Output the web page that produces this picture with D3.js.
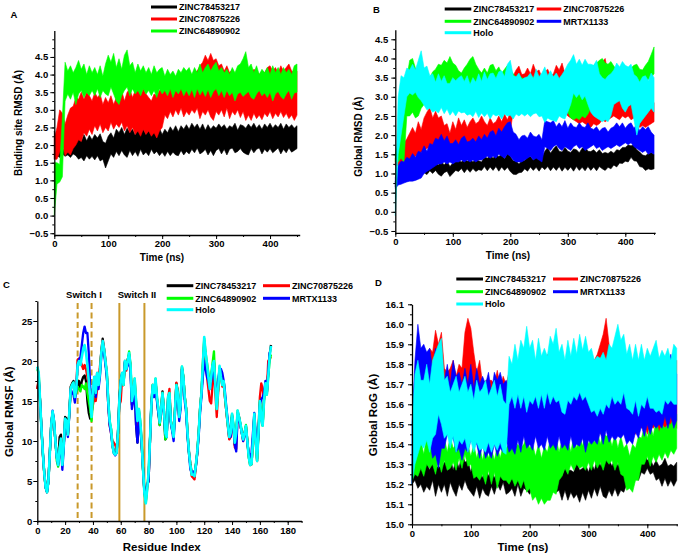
<!DOCTYPE html>
<html>
<head>
<meta charset="utf-8">
<script src="https://cdn.jsdelivr.net/npm/d3@7"></script>
<style>
  body { margin: 0; background: #fff; }
  svg text { font-family: "Liberation Sans", Arial, sans-serif; font-weight: bold; fill: #000; }
</style>
</head>
<body>
<svg id="fig" width="678" height="555"></svg>
<script>
////////////////////////////////////////////////////////////////////////
// Data.
// Time series are stored as the low / high envelope of each noisy trace,
// one pair of values every 5 ns (t = 0 .. 450).

let timeStep = 5;

// A: binding site RMSD
let blackA_lo = [1.6,1.7,1.65,1.75,1.68,1.72,1.65,1.75,1.7,1.6, 1.65,1.55,1.7,1.6,1.68,1.58,1.7,1.55,1.6,1.35, 1.55,1.75,1.65,1.82,1.7,1.85,1.72,1.65,1.85,1.7, 1.82,1.68,1.88,1.72,1.8,1.7,1.88,1.75,1.82,1.7, 1.8,1.68,1.82,1.7,1.8,1.72,1.7,1.85,1.72,1.82, 1.75,1.88,1.78,1.92,1.75,1.8,1.88,1.72,1.85,1.7, 1.85,1.9,1.75,1.88,1.72,1.88,1.92,1.78,1.82,1.9, 1.8,1.75,1.72,1.9,1.78,1.88,1.92,1.75,1.88,1.8, 1.9,1.78,1.85,1.92,1.75,1.88,1.78,1.92,1.8,1.85, 1.9];
let blackA_hi = [2.4,2.0,1.95,1.9,1.85,1.95,2.0,1.92,2.05,2.2, 2.1,2.3,2.12,2.28,2.15,2.3,2.2,2.32,2.1,2.05, 2.25,2.35,2.2,2.45,2.35,2.5,2.3,2.48,2.35,2.45, 2.28,2.5,2.35,2.45,2.3,2.5,2.38,2.52,2.32,2.48, 2.3,2.45,2.35,2.52,2.4,2.55,2.38,2.55,2.45,2.58, 2.45,2.62,2.5,2.6,2.45,2.6,2.42,2.58,2.45,2.55, 2.48,2.6,2.5,2.58,2.45,2.55,2.5,2.62,2.42,2.58, 2.55,2.48,2.6,2.5,2.62,2.48,2.58,2.45,2.6,2.5, 2.62,2.48,2.58,2.5,2.62,2.45,2.6,2.5,2.58,2.48, 2.55];
let redA_lo = [1.6,1.6,1.8,2.0,1.7,1.8,1.72,1.9,2.0,2.15, 2.1,2.35,2.25,2.45,2.3,2.55,2.4,2.6,2.35,2.5, 2.4,2.65,2.45,2.6,2.5,2.65,2.4,2.55,2.35,2.5, 2.3,2.4,2.25,2.45,2.3,2.4,2.25,2.35,2.2,2.4, 2.5,2.85,2.75,2.95,2.8,3.0,2.85,3.05,2.8,2.95, 2.85,3.0,2.9,3.05,2.75,2.95,2.85,3.0,2.8,2.7, 2.95,2.85,3.0,2.8,3.05,2.75,2.95,2.85,3.0,2.78, 2.95,2.7,2.85,2.7,2.9,2.75,2.85,2.72,2.9,2.8, 2.95,2.75,2.9,2.8,2.95,2.78,2.9,2.75,2.85,2.7, 2.85];
let redA_hi = [2.2,2.5,3.0,2.9,2.6,2.85,3.05,3.1,3.35,3.3, 3.5,3.3,3.5,3.4,3.25,3.5,3.35,3.45,3.15,3.35, 3.2,3.4,3.15,3.35,3.45,3.55,3.25,3.5,3.6,3.35, 3.55,3.65,3.4,3.6,3.45,3.35,3.25,3.45,3.4,3.55, 3.6,3.8,3.85,3.9,3.8,3.9,3.95,3.85,3.9,4.0, 3.95,4.0,4.05,4.1,4.25,4.35,4.55,4.4,4.6,4.4, 4.45,4.25,4.3,4.1,4.25,4.05,4.15,4.0,4.1,4.2, 4.05,4.1,4.0,4.05,4.15,4.1,4.0,4.1,4.05,4.2, 4.25,4.1,4.2,4.05,4.25,4.1,4.2,4.3,4.1,4.05, 4.1];
let greenA_lo = [0.0,0.9,0.95,1.1,3.25,3.45,3.3,3.5,3.15,3.45, 3.55,3.35,3.5,3.4,3.55,3.4,3.6,3.35,3.55,3.45, 3.4,3.65,3.45,3.25,3.15,3.4,3.55,3.65,3.4,3.6, 3.45,3.55,3.4,3.6,3.45,3.55,3.4,3.55,3.35,3.6, 3.45,3.55,3.4,3.6,3.35,3.55,3.45,3.6,3.4,3.55, 3.4,3.58,3.35,3.6,3.42,3.55,3.38,3.58,3.35,3.52, 3.6,3.4,3.55,3.35,3.55,3.4,3.5,3.25,3.45,3.5, 3.38,3.45,3.52,3.35,3.3,3.45,3.55,3.4,3.48,3.35, 3.5,3.25,3.45,3.52,3.38,3.3,3.45,3.55,3.3,3.48, 3.5];
let greenA_hi = [1.5,1.5,1.45,2.8,4.35,4.1,4.25,4.05,4.2,4.4, 4.15,4.3,4.0,4.25,4.05,4.2,4.0,4.25,3.95,4.3, 4.55,4.35,4.6,4.2,4.45,4.15,4.55,4.7,4.25,4.35, 4.05,4.3,4.1,4.25,4.05,4.2,4.0,4.25,4.05,4.15, 4.2,3.95,4.15,4.0,4.1,3.95,4.15,4.05,4.2,4.1, 4.2,4.0,4.2,4.05,4.3,4.05,4.2,4.3,4.1,4.25, 4.35,4.1,4.2,4.05,4.15,4.0,4.2,4.05,4.25,4.3, 4.45,4.65,4.2,4.3,4.05,4.25,4.0,4.15,4.05,4.2, 4.0,4.25,4.05,4.2,4.0,4.2,4.05,4.15,4.0,4.25, 4.3];

// B: global RMSD
let blackB_lo = [0.65,0.85,0.9,0.88,0.95,0.92,1.0,0.95,1.02,0.98, 1.02,0.97,1.07,1.0,1.08,0.98,0.93,1.02,1.06,0.92, 1.0,1.08,1.05,1.13,1.02,1.12,1.03,1.13,1.05,1.1, 1.08,1.18,1.07,1.17,1.08,1.18,1.06,1.17,1.08,1.16, 1.05,0.98,0.97,1.02,1.03,1.12,1.06,1.17,1.08,1.16, 1.06,1.17,1.1,1.18,1.07,1.17,1.08,1.18,1.06,1.16, 1.08,1.17,1.06,1.18,1.08,1.16,1.07,1.18,1.08,1.17, 1.07,1.18,1.12,1.08,1.16,1.12,1.22,1.17,1.27,1.26, 1.32,1.3,1.42,1.33,1.32,1.18,1.16,1.08,1.12,1.1, 1.12];
let blackB_hi = [0.8,1.0,1.02,1.05,1.08,1.1,1.13,1.08,1.18,1.12, 1.18,1.16,1.24,1.2,1.28,1.22,1.32,1.22,1.32,1.18, 1.27,1.3,1.34,1.3,1.38,1.32,1.37,1.3,1.38,1.33, 1.3,1.44,1.4,1.47,1.4,1.48,1.44,1.5,1.38,1.52, 1.45,1.33,1.32,1.25,1.33,1.34,1.42,1.44,1.35,1.43, 1.35,1.42,1.58,1.68,1.53,1.64,1.72,1.58,1.56,1.68, 1.58,1.55,1.64,1.62,1.54,1.66,1.7,1.58,1.57,1.62, 1.54,1.62,1.52,1.55,1.52,1.58,1.53,1.62,1.6,1.68, 1.68,1.74,1.72,1.75,1.62,1.56,1.48,1.46,1.52,1.55, 1.5];
let redB_lo = [1.2,1.2,1.25,1.3,1.35,1.3,1.4,1.45,1.5,1.55, 1.6,1.65,1.7,1.65,1.7,1.75,1.7,1.65,1.7,1.6, 1.6,1.65,1.7,1.75,1.8,1.75,1.8,1.85,1.8,1.75, 1.8,1.85,1.9,1.85,1.9,1.95,1.9,2.0,1.95,2.0, 2.1,2.6,2.7,2.8,2.75,2.8,2.85,2.8,2.9,2.85, 2.9,2.8,2.85,2.8,2.75,2.8,2.7,2.8,2.75,2.6, 2.5,2.45,2.4,2.35,2.3,2.35,2.3,2.25,2.2,2.3, 2.25,2.3,2.4,2.35,2.4,2.45,2.5,2.45,2.4,2.5, 2.45,2.5,2.4,2.45,2.3,2.2,2.25,2.2,2.25,2.3, 2.35];
let redB_hi = [1.4,1.6,1.7,1.8,1.9,2.05,2.2,2.05,2.35,2.15, 2.45,2.6,2.72,2.45,2.62,2.45,2.5,2.25,2.3,2.05, 2.35,2.15,2.45,2.25,2.4,2.2,2.35,2.45,2.3,2.35, 2.5,2.35,2.25,2.45,2.3,2.35,2.5,2.35,2.55,2.4, 2.6,3.55,3.7,3.8,3.58,3.6,3.75,3.6,3.85,3.65, 3.7,3.5,3.65,3.72,3.55,3.6,3.82,3.7,3.88,3.6, 3.5,3.45,3.4,3.35,3.4,3.3,3.35,3.4,3.3,3.45, 3.5,3.7,3.9,4.0,3.6,3.4,3.2,3.0,2.9,2.95, 2.85,2.92,2.98,2.82,2.7,2.6,2.68,2.72,2.75,2.8, 2.85];
let greenB_lo = [1.3,1.3,1.4,1.3,2.5,2.5,2.6,2.45,2.5,2.7, 2.8,2.9,2.85,2.9,3.0,2.95,3.0,3.05,3.1,3.0, 3.05,3.1,3.0,2.95,3.0,3.05,3.1,3.05,3.1,3.0, 3.05,2.95,3.0,3.05,3.1,3.0,3.05,3.1,3.05,3.0, 2.9,2.9,2.85,2.9,2.85,2.9,2.95,2.9,2.85,2.9, 2.95,2.9,2.85,2.9,2.85,2.9,2.8,2.85,2.8,2.75, 2.6,2.45,2.4,2.45,2.4,2.5,2.45,2.55,2.7,2.9, 3.1,3.2,3.25,3.2,3.3,3.25,3.3,3.25,3.3,3.2, 3.25,3.3,3.2,3.25,3.3,3.35,3.3,3.4,3.45,3.5, 3.6];
let greenB_hi = [1.5,1.8,2.6,3.0,3.5,3.95,4.0,3.75,3.62,3.5, 3.45,3.55,3.5,3.65,3.72,3.85,3.82,3.95,3.88,4.05, 3.88,3.82,3.68,3.62,3.75,3.85,3.98,4.05,3.85,3.72, 3.62,3.75,3.62,3.82,3.85,3.68,3.78,3.62,3.72,3.82, 3.72,3.6,3.5,3.55,3.5,3.45,3.5,3.55,3.5,3.45, 3.5,3.45,3.5,3.45,3.5,3.45,3.5,3.45,3.5,3.55, 3.6,3.7,3.6,3.5,3.55,3.5,3.6,3.55,3.7,3.82, 3.88,3.95,4.0,3.88,3.85,3.92,3.8,3.72,3.7,3.65, 3.6,3.72,3.75,3.82,3.85,3.72,3.7,3.82,3.92,4.1, 4.3];
let blueB_lo = [0.6,0.7,0.72,0.75,0.78,0.8,0.8,0.82,0.85,0.88, 1.0,1.05,1.1,1.15,1.2,1.25,1.25,1.3,1.25,1.3, 1.25,1.3,1.3,1.35,1.3,1.35,1.3,1.35,1.3,1.35, 1.35,1.4,1.45,1.4,1.45,1.4,1.5,1.45,1.4,1.5, 1.45,1.35,1.3,1.3,1.3,1.35,1.4,1.45,1.35,1.4, 1.35,1.3,1.7,1.65,1.6,1.7,1.75,1.65,1.6,1.7, 1.65,1.6,1.7,1.75,1.65,1.7,1.6,1.65,1.7,1.75, 1.65,1.7,1.6,1.65,1.7,1.65,1.7,1.75,1.7,1.75, 1.8,1.75,1.8,1.7,1.65,1.6,1.55,1.6,1.5,1.55, 1.5];
let blueB_hi = [0.9,1.2,1.32,1.3,1.42,1.38,1.52,1.42,1.58,1.55, 1.72,1.58,1.78,1.75,1.92,1.88,2.02,1.85,1.98,1.78, 1.78,1.88,1.75,1.92,1.98,1.82,1.85,1.92,1.82,1.98, 1.88,2.02,1.92,2.08,2.12,1.98,2.18,2.08,2.22,2.32, 2.35,2.08,2.02,1.88,1.98,2.0,1.92,2.08,1.98,1.95, 2.02,1.88,2.38,2.35,2.32,2.38,2.22,2.32,2.22,2.38, 2.18,2.32,2.22,2.2,2.32,2.22,2.2,2.32,2.18,2.15, 2.22,2.1,2.18,2.2,2.08,2.18,2.22,2.32,2.22,2.32, 2.18,2.28,2.32,2.18,2.28,2.12,2.22,2.15,2.22,2.08, 2.0];
let cyanB_lo = [-0.1,1.5,2.0,2.5,3.0,3.1,3.05,3.12,2.98,2.9, 2.78,2.66,2.7,2.6,2.64,2.58,2.72,2.56,2.68,2.52, 2.62,2.5,2.63,2.58,2.6,2.52,2.55,2.48,2.62,2.46, 2.58,2.48,2.57,2.42,2.55,2.5,2.53,2.42,2.55,2.5, 2.52,2.42,2.55,2.5,2.56,2.5,2.56,2.48,2.55,2.58, 2.48,2.5,2.33,2.45,2.4,2.38,2.35,2.5,2.45,2.42, 2.6,2.8,3.1,2.98,3.08,2.92,3.02,2.8,2.6,2.5, 2.45,2.4,2.35,2.4,2.35,2.5,2.8,2.85,2.9,2.7, 2.6,2.75,2.8,2.4,2.0,2.3,2.4,2.5,2.6,2.7, 2.6];
let cyanB_hi = [0.5,3.0,3.55,3.5,3.75,3.7,3.85,3.7,3.95,4.2, 3.75,3.8,3.55,3.6,3.38,3.6,3.4,3.55,3.35,3.35, 3.5,3.42,3.5,3.55,3.4,3.55,3.32,3.5,3.38,3.6, 3.4,3.65,3.45,3.6,3.62,3.48,3.65,3.68,3.52,3.85, 3.95,3.55,3.52,3.62,3.45,3.5,3.52,3.62,3.48,3.72, 3.52,3.62,3.78,3.55,3.68,3.52,3.62,3.48,3.58,3.7, 3.85,3.95,4.1,3.85,3.98,3.82,3.98,3.85,3.85,3.82, 3.95,3.6,3.5,3.45,3.55,3.6,3.7,3.88,3.78,3.92, 3.82,3.78,3.85,3.58,3.52,3.38,3.52,3.55,3.42,3.62, 3.5];

// D: global radius of gyration
let blackD_lo = [15.2,15.22,15.18,15.2,15.16,15.19,15.17,15.22,15.14,15.2, 15.16,15.2,15.14,15.21,15.17,15.14,15.2,15.17,15.22,15.18, 15.16,15.14,15.19,15.13,15.18,15.15,15.14,15.19,15.15,15.2, 15.17,15.21,15.15,15.16,15.18,15.14,15.2,15.14,15.18,15.17, 15.15,15.19,15.14,15.18,15.19,15.15,15.19,15.14,15.18,15.16, 15.17,15.12,15.17,15.12,15.16,15.13,15.15,15.11,15.16,15.12, 15.17,15.13,15.18,15.14,15.19,15.14,15.13,15.17,15.14,15.18, 15.14,15.17,15.16,15.2,15.21,15.19,15.23,15.22,15.26,15.25, 15.28,15.25,15.26,15.22,15.23,15.19,15.23,15.19,15.22,15.19, 15.22];
let blackD_hi = [15.25,15.28,15.25,15.3,15.26,15.31,15.27,15.33,15.28,15.29, 15.28,15.31,15.3,15.34,15.27,15.33,15.28,15.36,15.31,15.32, 15.26,15.32,15.24,15.29,15.23,15.28,15.24,15.28,15.23,15.27, 15.24,15.28,15.23,15.26,15.22,15.26,15.23,15.25,15.27,15.24, 15.25,15.27,15.24,15.28,15.24,15.27,15.29,15.24,15.28,15.25, 15.29,15.24,15.28,15.27,15.27,15.26,15.31,15.27,15.28,15.3, 15.26,15.31,15.27,15.33,15.29,15.34,15.36,15.32,15.29,15.33, 15.29,15.32,15.28,15.31,15.29,15.3,15.29,15.32,15.31,15.35, 15.32,15.33,15.29,15.32,15.29,15.3,15.33,15.29,15.3,15.29, 15.31];
let redD_lo = [15.2,15.4,15.5,15.55,15.5,15.55,15.5,15.55,15.5,15.55, 15.5,15.5,15.45,15.5,15.45,15.5,15.45,15.5,15.5,15.55, 15.5,15.45,15.5,15.45,15.5,15.45,15.5,15.45,15.5,15.45, 15.5,15.45,15.45,15.5,15.48,15.5,15.45,15.5,15.48,15.5, 15.45,15.5,15.48,15.5,15.45,15.5,15.48,15.5,15.45,15.5, 15.48,15.5,15.45,15.5,15.48,15.5,15.45,15.5,15.48,15.5, 15.45,15.5,15.48,15.5,15.45,15.5,15.48,15.5,15.45,15.5, 15.48,15.5,15.45,15.5,15.48,15.5,15.45,15.5,15.48,15.5, 15.45,15.5,15.48,15.5,15.45,15.5,15.48,15.5,15.45,15.5, 15.48];
let redD_hi = [15.3,15.75,15.88,15.85,15.88,15.78,15.88,15.86,15.97,15.9, 15.96,15.78,15.76,15.78,15.82,15.74,15.8,15.78,15.96,16.03, 15.98,15.86,15.76,15.82,15.7,15.72,15.72,15.72,15.7,15.77, 15.68,15.74,15.7,15.76,15.8,15.78,15.82,15.8,15.85,15.9, 15.85,15.8,15.82,15.78,15.8,15.82,15.85,15.8,15.88,15.9, 15.82,15.8,15.78,15.82,15.8,15.78,15.82,15.8,15.85,15.82, 15.8,15.78,15.82,15.85,15.9,15.95,16.03,15.9,15.82,15.8, 15.82,15.85,15.8,15.78,15.8,15.78,15.75,15.78,15.8,15.75, 15.78,15.8,15.76,15.78,15.8,15.78,15.82,15.8,15.78,15.8, 15.82];
let greenD_lo = [15.22,15.25,15.24,15.28,15.24,15.3,15.28,15.3,15.25,15.32, 15.26,15.32,15.27,15.28,15.31,15.27,15.33,15.28,15.35,15.29, 15.3,15.23,15.24,15.22,15.25,15.2,15.27,15.2,15.26,15.18, 15.24,15.22,15.22,15.2,15.23,15.19,15.22,15.18,15.22,15.16, 15.18,15.12,15.14,15.1,15.13,15.1,15.12,15.12,15.16,15.15, 15.22,15.24,15.28,15.25,15.3,15.27,15.3,15.28,15.29,15.27, 15.31,15.27,15.32,15.28,15.31,15.27,15.32,15.3,15.32,15.27, 15.31,15.25,15.24,15.17,15.18,15.16,15.22,15.22,15.3,15.3, 15.34,15.29,15.34,15.31,15.35,15.32,15.36,15.33,15.37,15.35, 15.38];
let greenD_hi = [15.3,15.36,15.37,15.42,15.35,15.44,15.38,15.4,15.46,15.5, 15.4,15.43,15.36,15.44,15.38,15.4,15.38,15.44,15.37,15.4, 15.34,15.4,15.33,15.39,15.32,15.4,15.33,15.38,15.32,15.39, 15.33,15.4,15.38,15.4,15.43,15.38,15.4,15.38,15.4,15.44, 15.38,15.4,15.34,15.4,15.33,15.39,15.36,15.42,15.4,15.43, 15.36,15.42,15.4,15.43,15.36,15.44,15.38,15.45,15.39,15.46, 15.4,15.43,15.41,15.47,15.4,15.46,15.44,15.45,15.39,15.45, 15.38,15.44,15.38,15.4,15.34,15.4,15.38,15.44,15.43,15.49, 15.43,15.5,15.44,15.52,15.46,15.5,15.48,15.5,15.5,15.53, 15.55];
let blueD_lo = [15.2,15.45,15.5,15.46,15.52,15.42,15.42,15.33,15.35,15.28, 15.38,15.38,15.45,15.42,15.43,15.36,15.38,15.32,15.38,15.36, 15.42,15.4,15.4,15.33,15.4,15.33,15.36,15.33,15.4,15.34, 15.38,15.36,15.42,15.36,15.38,15.35,15.42,15.36,15.44,15.38, 15.4,15.37,15.44,15.38,15.4,15.37,15.44,15.38,15.4,15.37, 15.44,15.38,15.4,15.37,15.44,15.38,15.4,15.39,15.43,15.36, 15.42,15.4,15.42,15.4,15.46,15.4,15.47,15.41,15.44,15.42, 15.44,15.43,15.45,15.4,15.42,15.4,15.46,15.43,15.49,15.44, 15.5,15.45,15.5,15.48,15.5,15.48,15.54,15.48,15.54,15.48, 15.52];
let blueD_hi = [15.5,15.82,16.0,15.88,15.9,15.86,15.88,15.78,15.88,15.8, 15.8,15.72,15.8,15.7,15.82,15.74,15.76,15.7,15.78,15.7, 15.8,15.68,15.78,15.7,15.74,15.7,15.76,15.66,15.76,15.72, 15.76,15.7,15.72,15.68,15.7,15.72,15.68,15.7,15.72,15.7, 15.68,15.7,15.72,15.7,15.68,15.7,15.72,15.7,15.68,15.7, 15.72,15.7,15.68,15.7,15.72,15.7,15.68,15.7,15.72,15.7, 15.68,15.7,15.75,15.8,15.72,15.7,15.68,15.7,15.72,15.7, 15.68,15.7,15.72,15.7,15.68,15.7,15.72,15.7,15.68,15.7, 15.72,15.7,15.68,15.7,15.72,15.7,15.75,15.8,15.85,15.78, 15.75];
let cyanD_lo = [15.2,15.3,15.35,15.4,15.38,15.42,15.36,15.43,15.45,15.55, 15.5,15.43,15.45,15.38,15.44,15.36,15.42,15.4,15.43,15.36, 15.42,15.36,15.41,15.37,15.38,15.36,15.41,15.36,15.4,15.37, 15.41,15.36,15.35,15.6,15.64,15.58,15.65,15.58,15.64,15.56, 15.62,15.6,15.64,15.58,15.65,15.58,15.66,15.6,15.64,15.61, 15.62,15.56,15.55,15.62,15.6,15.64,15.62,15.66,15.62,15.64, 15.6,15.56,15.57,15.54,15.58,15.55,15.6,15.58,15.64,15.6, 15.62,15.6,15.66,15.58,15.57,15.55,15.62,15.54,15.6,15.58, 15.64,15.58,15.58,15.56,15.57,15.55,15.62,15.6,15.62,15.6, 15.6];
let cyanD_hi = [15.5,15.75,15.82,15.72,15.72,15.8,15.7,15.82,15.86,15.9, 15.93,15.72,15.74,15.66,15.7,15.74,15.66,15.7,15.74,15.66, 15.7,15.62,15.72,15.66,15.68,15.72,15.64,15.68,15.72,15.64, 15.7,15.62,15.6,15.84,15.8,15.9,15.82,15.92,15.88,15.99, 15.88,15.92,15.82,15.93,15.84,15.88,15.84,15.94,15.9,15.98, 15.86,15.9,15.82,15.92,15.84,15.93,15.85,15.95,15.87,15.94, 15.86,15.88,15.82,15.84,15.83,15.86,15.82,15.9,15.88,15.94, 16.0,15.92,15.95,15.85,15.9,15.82,15.9,15.82,15.9,15.82, 15.88,15.84,15.88,15.92,15.83,15.87,15.84,15.88,15.82,15.9, 15.88];

// C: RMSF per residue (index = residue 0 .. 168)
let rmsfBlack = [16.5,17.5,15,11.5,8.5,6,4.2,3.7,5,8.5, 12,13.6,12.5,10,8,7.2,10.5,10.8,7.5,9.5, 13,12.8,10.8,13.5,16.8,17.2,17.5,16,16.5,17, 17.5,16.5,17.5,18,18.2,17.5,15,13.5,12.8,13.2, 16,17.8,16.2,18.5,17,18.8,21.2,22.8,21.5,20, 18.2,15.2,12.2,11.5,9.5,8.7,8.5,8.6,11,15.5, 17.5,18.3,17.2,19.8,19,20.2,20.8,19.2,14.5,15.5, 17.5,12,9.8,13,12,9.5,6.5,3.8,3,4.5, 5,10,14.8,17,16.2,17.5,15.2,13.5,12,14, 16.2,13.8,10.2,10.5,15.3,15.8,12.5,11.3,10.7,14, 17.2,16.2,13,14.5,19,18,15.5,14,11,8.7, 7.2,6,5.8,5.5,7,8.5,11,14,16,19, 22,20.5,19,17.5,16.8,17.8,19.5,19.8,17,14.5, 16.5,19,18.5,17.2,17.5,15.3,13.5,12,10.3,11.2, 13.2,11.8,9.5,11,13.5,13,12,11,10.4,11, 11.8,10,8.2,7.2,7.1,10,13,10.2,7.8,11, 14.8,13.2,12,15.5,17,16,18.5,20.8,22];
let rmsfRed = [16.5,17.8,15,11.5,8.3,6,4.2,3.6,5,8.5, 12,13.5,12.3,10,8,7,9,10,7.2,9.5, 12.6,12.5,10.8,13.3,16.5,17,17.2,15.8,17,20.2, 20.3,20,19.5,19,19.5,19,18,17,15.5,13.5, 14.5,15.5,15,16.5,17,19.3,21,22.5,21.5,20, 18.2,14.5,12,11,10,9.8,9.5,9,11,14.5, 15,18,17,19.8,18.8,20,20.8,19.5,15,16, 17.5,14.8,12,13.8,12.2,10,6.5,3.6,2.5,4.2, 5.5,10,14.3,16.8,16,17.5,15.3,14,12.5,14, 16,14,10.8,10.5,15.3,16.5,12.5,11.5,10.5,14, 17.3,16,13,14.5,19.2,18,15.5,14,11,8.7, 7,5.6,5.4,5.2,6.8,8.5,11,14,16,19.2, 22.5,20.5,18,16.5,15,14.7,17,19.8,16,13, 16,19,18.3,16.8,17,15.3,13.5,11.8,10.2,10.5, 13,11.5,9.2,9,13.5,13,12,11,10,11, 11.8,10,8,7,7.1,10,13.2,10,7.5,11.5, 15.5,17.2,16.5,15.2,17,16,20,20.3,20.5];
let rmsfGreen = [19,18.5,15,11.5,8.5,6,4.2,3.6,5,8.5, 12,13.5,12.5,10,7.5,6.8,9,10,7,9.5, 12.5,12.5,10.8,13.5,16.5,17,17.3,15.5,16,16.8, 16.5,16.2,17,16.8,16.5,17.2,16,15,14,12.5, 15,17,16,18.2,17,18.3,21,22,21.2,19.8, 18.5,15,12.5,11.5,9.5,8.5,8.3,8.5,11,15, 17.5,18.5,17,20,19.2,20,21.2,19.5,15.5,16, 17.8,15,12.5,14,12.5,10,6.5,3.5,2.3,4, 6,10.2,14.5,17,16,17.8,15.5,14,12,14, 16,13.8,10.2,10.5,15.5,16,12.5,11.5,10.5,14, 17,16,13,14.5,19.3,18,15.5,14,10.8,8.5, 7,5.8,5.8,5.8,7,8.7,11,14,16,19.8, 22.8,21,19.8,18.5,17,18.2,19.8,21.2,17,14, 16.5,19.2,18,17,17.5,15.5,13.8,12,10.8,11.8, 13.4,12,9.8,11,13.8,13,12.2,11.2,10.2,11, 12,10,8,7,7.1,10,13.4,10,7.5,11, 15,13,11.9,15,17,15.8,18,20,20.8];
let rmsfBlue = [18,18,15,11.5,8.5,6,4.2,3.6,5,8.5, 12,13.8,12.5,10,8,7,8.5,9.5,6.4,9, 12.5,12.5,10.5,13.3,16.5,16,15.8,14.8,16.5,19.5, 20.2,20.5,22,23.5,24.3,23.5,23.5,21,17,14, 16,18,15.5,18,16.5,18,20.5,22,21,19.5, 18,14.5,12,11,9.5,8.5,8.2,8.5,11,15, 17.5,18.5,17.5,20,19,19.5,20.5,18.5,14,15, 16.5,12,9.8,12.5,12,9.5,6.5,3.5,3,4.5, 5,10,14.5,16.5,15.5,17,15,13.5,12.5,13.8, 15.5,13.5,11,10.5,15,15.5,12.2,11.2,10,13.5, 16.5,15.5,12.5,14,19,17.5,15,13.5,10.5,8.5, 6.5,6,6.2,5.8,6.8,8.5,10.5,13.5,15.5,18, 20,19,18,17.5,16.5,17.5,18.5,18.5,17,15.5, 17.5,19,19,18.5,17.5,16,14,12.5,10.5,10.5, 13,11.5,9.5,8.7,13,12.8,12,11,10,10.8, 11.5,9.8,8.5,8,8.5,11,13.5,11,8.5,11, 14.5,15.2,15.5,16,17.5,16,18.5,21,21];
let rmsfHolo = [19.3,18.5,15,11.5,8.5,6,4.2,3.6,5,8.5, 12,13.7,12.5,10,8,7,9,10.3,7,9.5, 12.8,12.5,10.8,13.5,16.5,17,17.3,15.5,16.5,19.5, 20,19.5,20.5,21.5,22,21,19.5,17.5,15.5,13, 16.5,18,16,18.5,17,18.5,21,22.5,21.5,20, 18.5,15,12.5,11.5,9.5,8.5,8.3,8.5,11,15, 17.5,18.5,17,20,19,20,21,19.5,15,16, 17.8,15,12.5,14,12.5,10,6.5,3.5,2.2,4, 6,10,14.5,17,16,17.8,15.5,14,12.3,14, 16,14,11,10.5,15.5,16,12.5,11.5,10.5,14, 17,16,13,14.5,19.3,18,15.5,14,11,8.7, 7,5.8,5.8,5.6,7,8.7,11,14,16,19.5, 23,21,19.5,18,16.5,18,19.5,20,17,14, 16.5,19.4,18,17,17.5,15.5,13.8,12,10.5,11, 13.4,12,9.8,11,13.8,13,12.2,11,10.2,11, 11.9,10,8,7,7.1,10,13.4,10,7.5,11, 15,13,11.9,15,17.2,15.8,18,20.5,21.9];

// switch regions (residue numbers) in panel C
let switchOne = [29, 39];
let switchTwo = [59, 77];

// legend names / colours
let names = ["ZINC78453217", "ZINC70875226", "ZINC64890902", "MRTX1133", "Holo"];
let colors = ["#000000", "#ff0000", "#00ff00", "#0000ff", "#00ffff"];

// tick values
let tickA = d3.range(0, 11).map(i => +(-0.5 + i * 0.5).toFixed(2));
let tickB = d3.range(0, 11).map(i => +(-0.5 + i * 0.5).toFixed(2));
let tickC = [0, 5, 10, 15, 20, 25];
let tickD = d3.range(0, 12).map(i => +(15 + i * 0.1).toFixed(2));
let tickTime = [0, 100, 200, 300, 400];
let tickRes = [0, 20, 40, 60, 80, 100, 120, 140, 160, 180];


////////////////////////////////////////////////////////////////////////
// Helpers

let svg = d3.select("#fig");

function drawAxes(g, xs, ys, cfg) {
  let fs = cfg.fontSize;
  let x0 = xs.range()[0], y0 = ys.range()[0];

  let yMin = g.append("g").attr("transform", "translate(" + x0 + ",0)")
    .call(d3.axisLeft(ys).tickValues(cfg.yMinor).tickSize(2).tickFormat("").tickSizeOuter(0));
  yMin.select(".domain").remove();
  let yMaj = g.append("g").attr("transform", "translate(" + x0 + ",0)")
    .call(d3.axisLeft(ys).tickValues(cfg.yMajor).tickSize(4).tickSizeOuter(0)
      .tickPadding(cfg.yPad).tickFormat(cfg.yFmt));

  let xMin = g.append("g").attr("transform", "translate(0," + y0 + ")")
    .call(d3.axisBottom(xs).tickValues(cfg.xMinor).tickSize(2).tickFormat("").tickSizeOuter(0));
  xMin.select(".domain").remove();
  let xMaj = g.append("g").attr("transform", "translate(0," + y0 + ")")
    .call(d3.axisBottom(xs).tickValues(cfg.xMajor).tickSize(4).tickSizeOuter(0)
      .tickPadding(cfg.xPad).tickFormat(d3.format("d")));

  [yMin, yMaj, xMin, xMaj].forEach(a => {
    a.selectAll("line").attr("stroke", "#000").attr("stroke-width", 1);
    a.selectAll(".domain").attr("stroke", "#000").attr("stroke-width", 1.3);
    a.selectAll("text").attr("font-size", fs).attr("font-family", null);
  });
}

function drawBand(g, xs, ys, lo, hi, color) {
  let pts = lo.map((v, i) => ({t: i * timeStep, lo: v, hi: hi[i]}));
  g.append("path").datum(pts)
    .attr("d", d3.area().x(d => xs(d.t)).y0(d => ys(d.lo)).y1(d => ys(d.hi)))
    .attr("fill", color)
    .attr("stroke", color)
    .attr("stroke-width", 0.6)
    .attr("stroke-linejoin", "round");
}

function drawLegend(g, cfg, count) {
  for (let i = 0; i < count; ++i) {
    let col = cfg.cols[i % cfg.cols.length];
    let row = Math.floor(i / cfg.cols.length);
    let y = cfg.rows[row];
    g.append("line")
      .attr("x1", col[0]).attr("x2", col[1])
      .attr("y1", y).attr("y2", y)
      .attr("stroke", colors[i]).attr("stroke-width", 3);
    g.append("text")
      .attr("x", col[1] + 2).attr("y", y + 3.2)
      .attr("font-size", 9)
      .text(names[i]);
  }
}

function addText(x, y, txt, size, rotate) {
  let t = svg.append("text")
    .attr("font-size", size)
    .attr("text-anchor", "middle")
    .text(txt);
  if (rotate) t.attr("transform", "translate(" + x + "," + y + ") rotate(-90)");
  else t.attr("x", x).attr("y", y);
  return t;
}


////////////////////////////////////////////////////////////////////////
// Panel A

let gA = svg.append("g");
let xA = d3.scaleLinear().domain([0, 455]).range([54.3, 299.7]);
let yA = d3.scaleLinear().domain([-0.55, 5.25]).range([235, 30.5]);
drawBand(gA, xA, yA, blackA_lo, blackA_hi, colors[0]);
drawBand(gA, xA, yA, redA_lo, redA_hi, colors[1]);
drawBand(gA, xA, yA, greenA_lo, greenA_hi, colors[2]);
drawAxes(gA, xA, yA, {
  yMajor: tickA, yMinor: d3.range(0, 23).map(i => -0.5 + i * 0.25), yFmt: d3.format(".1f"), yPad: 2,
  xMajor: tickTime, xMinor: d3.range(0, 10).map(i => i * 50), xPad: 1, fontSize: 9.5
});
drawLegend(gA, {cols: [[151, 177]], rows: [7, 19, 31]}, 3);
addText(14, 18, "A", 9.5);
addText(162, 260.5, "Time (ns)", 10);
addText(21.5, 123, "Binding site RMSD (Å)", 10, true);


////////////////////////////////////////////////////////////////////////
// Panel B

let gB = svg.append("g");
let xB = d3.scaleLinear().domain([0, 452]).range([395.3, 655.2]);
let yB = d3.scaleLinear().domain([-0.55, 4.75]).range([232.9, 29.7]);
drawBand(gB, xB, yB, blackB_lo, blackB_hi, colors[0]);
drawBand(gB, xB, yB, redB_lo, redB_hi, colors[1]);
drawBand(gB, xB, yB, greenB_lo, greenB_hi, colors[2]);
drawBand(gB, xB, yB, blueB_lo, blueB_hi, colors[3]);
drawBand(gB, xB, yB, cyanB_lo, cyanB_hi, colors[4]);
drawAxes(gB, xB, yB, {
  yMajor: tickB, yMinor: d3.range(0, 21).map(i => -0.5 + i * 0.25), yFmt: d3.format(".1f"), yPad: 3,
  xMajor: tickTime, xMinor: d3.range(0, 10).map(i => i * 50), xPad: 1.5, fontSize: 9.5
});
drawLegend(gB, {cols: [[444.7, 471.3], [536.7, 561.3]], rows: [9, 21.3, 32.7]}, 5);
addText(376.5, 13, "B", 9.5);
addText(508, 259, "Time (ns)", 10);
addText(361.5, 136.7, "Global RMSD (Å)", 10, true);


////////////////////////////////////////////////////////////////////////
// Panel C

let gC = svg.append("g");
let xC = d3.scaleLinear().domain([0, 190]).range([37.3, 301.6]);
let yC = d3.scaleLinear().domain([0, 27.5]).range([521, 301]);
let switchColor = "#c9992b";
switchOne.forEach(r => {
  gC.append("line").attr("x1", xC(r)).attr("x2", xC(r)).attr("y1", 303).attr("y2", 521)
    .attr("stroke", switchColor).attr("stroke-width", 2).attr("stroke-dasharray", "6,3.5");
});
switchTwo.forEach(r => {
  gC.append("line").attr("x1", xC(r)).attr("x2", xC(r)).attr("y1", 303).attr("y2", 521)
    .attr("stroke", switchColor).attr("stroke-width", 2);
});
let rmsfLine = d3.line().x((d, i) => xC(i)).y(d => yC(d));
[rmsfBlack, rmsfRed, rmsfGreen, rmsfBlue, rmsfHolo].forEach((s, k) => {
  gC.append("path").datum(s)
    .attr("d", rmsfLine)
    .attr("fill", "none")
    .attr("stroke", colors[k])
    .attr("stroke-width", k === 4 ? 2.6 : 2.3)
    .attr("stroke-linejoin", "round");
});
drawAxes(gC, xC, yC, {
  yMajor: tickC, yMinor: d3.range(0, 12).map(i => i * 2.5), yFmt: d3.format("d"), yPad: 1,
  xMajor: tickRes, xMinor: d3.range(0, 20).map(i => i * 10), xPad: 2.5, fontSize: 9.5
});
drawLegend(gC, {cols: [[166.7, 193.3], [263, 290]], rows: [285.7, 298.3, 309.7]}, 5);
addText(6.5, 288, "C", 9.5);
addText(84, 298, "Switch I", 9.5);
addText(137, 298, "Switch II", 9.5);
addText(161.7, 551, "Residue Index", 11.5);
addText(12.5, 411.7, "Global RMSF (Å)", 11.5, true);


////////////////////////////////////////////////////////////////////////
// Panel D

let gD = svg.append("g");
let xD = d3.scaleLinear().domain([0, 451]).range([412, 677.3]);
let yD = d3.scaleLinear().domain([15.0, 16.1]).range([524.3, 304.3]);
drawBand(gD, xD, yD, blackD_lo, blackD_hi, colors[0]);
drawBand(gD, xD, yD, redD_lo, redD_hi, colors[1]);
drawBand(gD, xD, yD, greenD_lo, greenD_hi, colors[2]);
drawBand(gD, xD, yD, blueD_lo, blueD_hi, colors[3]);
drawBand(gD, xD, yD, cyanD_lo, cyanD_hi, colors[4]);
drawAxes(gD, xD, yD, {
  yMajor: tickD, yMinor: d3.range(0, 23).map(i => 15 + i * 0.05), yFmt: d3.format(".1f"), yPad: 4,
  xMajor: tickTime, xMinor: d3.range(0, 10).map(i => i * 50), xPad: 1.5, fontSize: 9.5
});
drawLegend(gD, {cols: [[456.3, 483], [553, 578]], rows: [279, 291.7, 304]}, 5);
addText(378.5, 286, "D", 9.5);
addText(523, 551, "Time (ns)", 11.5);
addText(377, 415, "Global RoG (Å)", 11.5, true);
</script>
</body>
</html>
